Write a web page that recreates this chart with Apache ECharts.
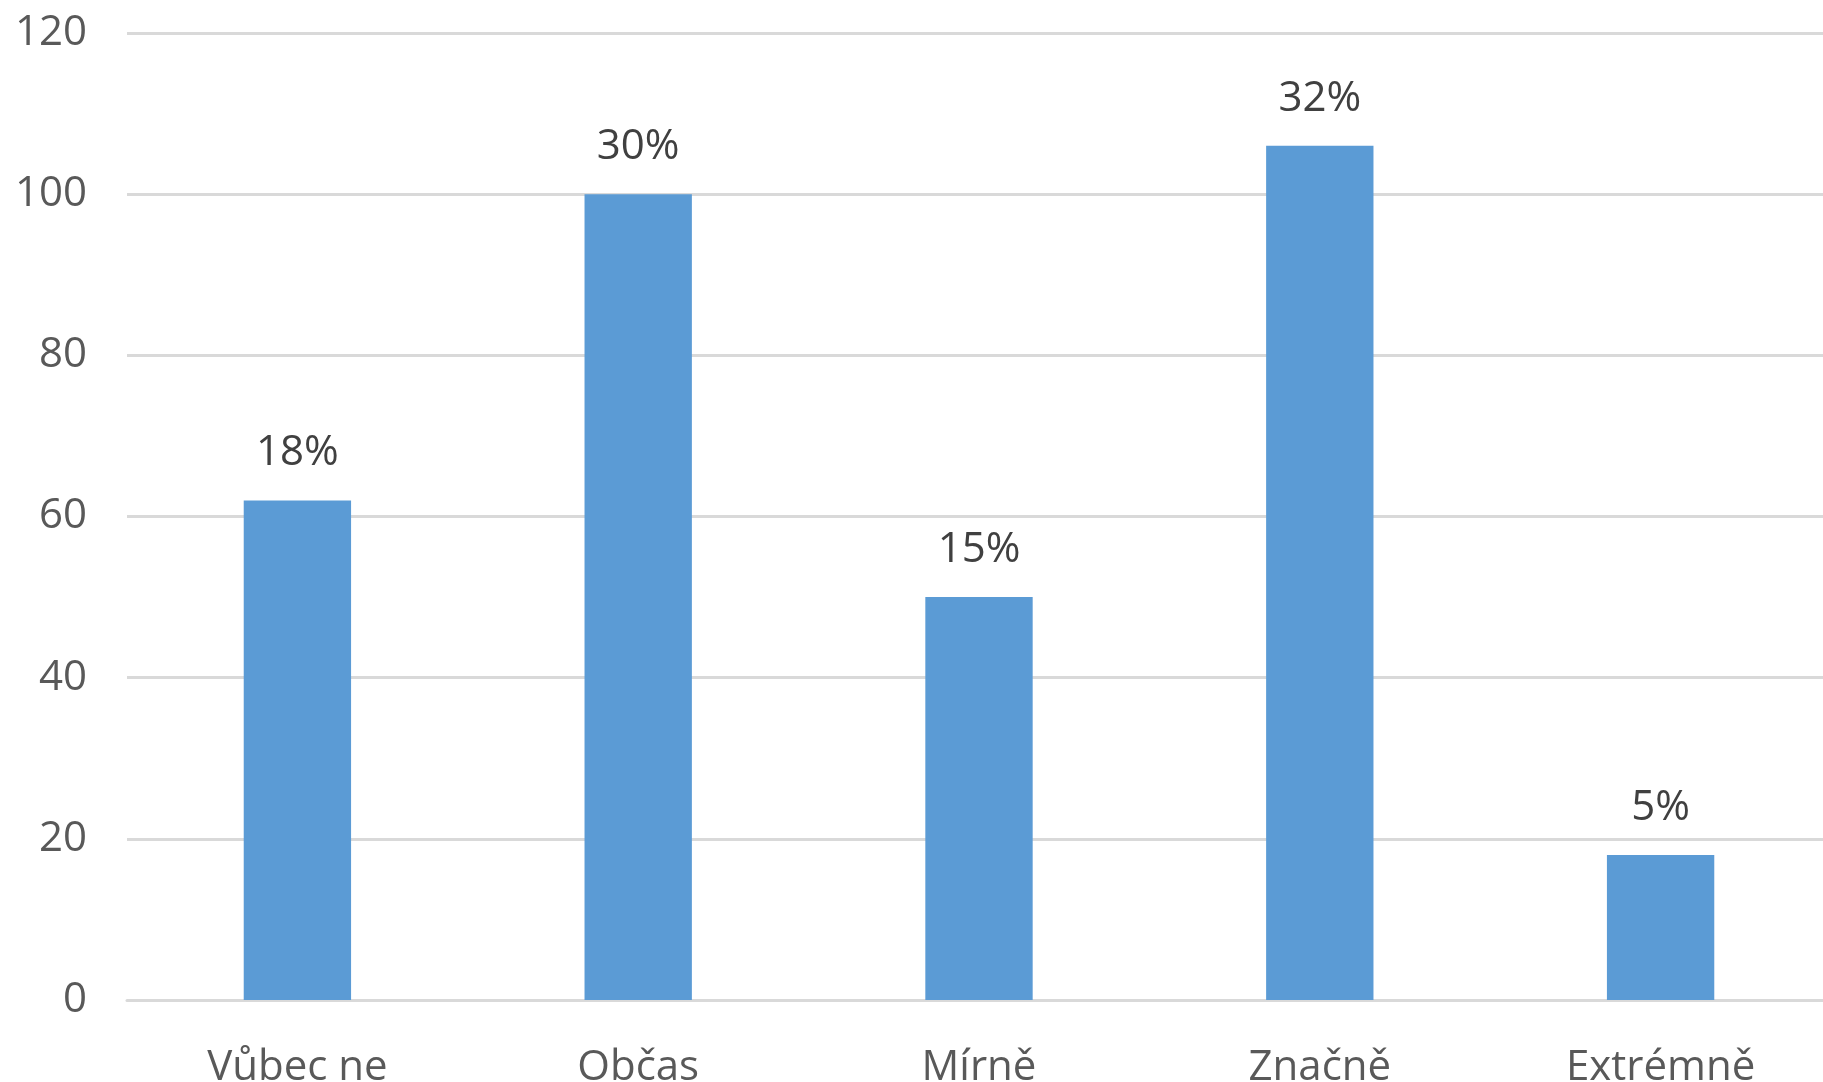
<!DOCTYPE html>
<html><head><meta charset="utf-8">
<script src="https://cdn.jsdelivr.net/npm/echarts@6/dist/echarts.min.js"></script>
<style>html,body{margin:0;padding:0;background:#fff}#c{width:1823px;height:1082px}</style>
</head><body><div id="c"></div>
<script>
const categories = ['Vůbec ne', 'Občas', 'Mírně', 'Značně', 'Extrémně'];
const values = [62, 100, 50, 106, 18];
const percentLabels = ['18%', '30%', '15%', '32%', '5%'];

const chart = echarts.init(document.getElementById('c'));
const font = '"Open Sans", sans-serif';
chart.setOption({
  animation: false,
  grid: { left: 127, width: 1704, top: 33, bottom: 82, containLabel: false, outerBoundsMode: 'none' },
  xAxis: {
    type: 'category', data: categories,
    axisLine: { show: true, lineStyle: { color: '#d9d9d9', width: 3 } },
    axisTick: { show: false },
    axisLabel: { color: '#595959', fontFamily: font, fontSize: 42, margin: 47 }
  },
  yAxis: {
    type: 'value', min: 0, max: 120, interval: 20,
    axisLine: { show: false }, axisTick: { show: false },
    splitLine: { lineStyle: { color: '#d9d9d9', width: 3 } },
    axisLabel: { color: '#595959', fontFamily: font, fontSize: 42, margin: 40, padding: [10, 0, 0, 0] }
  },
  series: [{
    type: 'bar', data: values, barWidth: '31.5%',
    itemStyle: { color: '#5b9bd5' },
    label: {
      show: true, position: 'top', distance: 26,
      color: '#404040', fontFamily: font, fontSize: 42,
      formatter: p => percentLabels[p.dataIndex]
    }
  }]
});
</script></body></html>
